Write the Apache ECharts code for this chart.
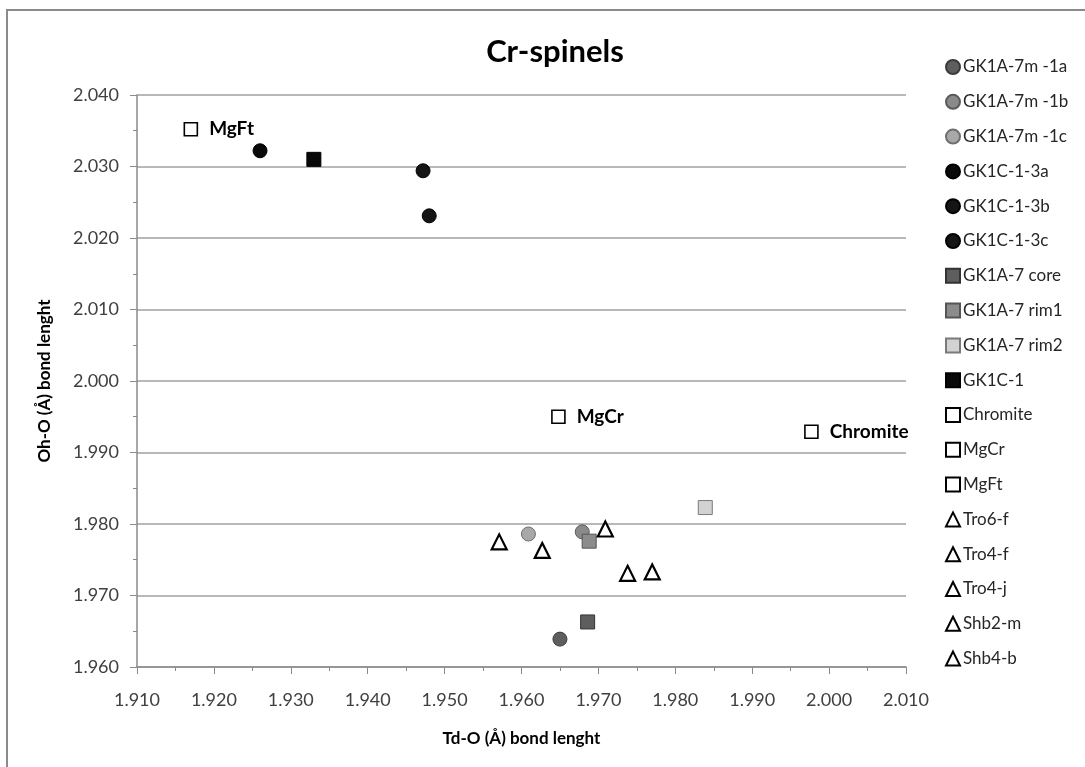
<!DOCTYPE html>
<html>
<head>
<meta charset="utf-8">
<title>Cr-spinels</title>
<script src="https://cdn.jsdelivr.net/npm/echarts@6/dist/echarts.min.js"></script>
<style>
  html, body { margin: 0; padding: 0; background: #fff; }
  #ChartDom { width: 1085px; height: 767px; }
</style>
</head>
<body>
<div id="ChartDom"></div>
<script>
// axis ranges (Td-O on x, Oh-O on y)
const xMin = 1.91
const xMax = 2.01
const xStep = 0.01
const yMin = 1.96
const yMax = 2.04
const yStep = 0.01

const seriesNames = [
  "GK1A-7m -1a", "GK1A-7m -1b", "GK1A-7m -1c",
  "GK1C-1-3a", "GK1C-1-3b", "GK1C-1-3c",
  "GK1A-7 core", "GK1A-7 rim1", "GK1A-7 rim2", "GK1C-1",
  "Chromite", "MgCr", "MgFt",
  "Tro6-f", "Tro4-f", "Tro4-j", "Shb2-m", "Shb4-b",
]

// [Td-O, Oh-O] per sample
const gk1a7m1a = [[1.9650, 1.9639]]
const gk1a7m1b = [[1.9679, 1.9789]]
const gk1a7m1c = [[1.9609, 1.9786]]
const gk1c13a = [[1.9260, 2.0322]]
const gk1c13b = [[1.9472, 2.0294]]
const gk1c13c = [[1.9480, 2.0231]]
const gk1a7core = [[1.9686, 1.9663]]
const gk1a7rim1 = [[1.9688, 1.9776]]
const gk1a7rim2 = [[1.9839, 1.9823]]
const gk1c1 = [[1.9330, 2.0310]]
const chromite = [[1.9977, 1.9929]]
const mgCr = [[1.9648, 1.9950]]
const mgFt = [[1.9170, 2.0352]]
const tro6f = [[1.9571, 1.9775]]
const tro4f = [[1.9627, 1.9763]]
const tro4j = [[1.9709, 1.9793]]
const shb2m = [[1.9738, 1.9731]]
const shb4b = [[1.9770, 1.9733]]

const seriesData = [
  gk1a7m1a, gk1a7m1b, gk1a7m1c,
  gk1c13a, gk1c13b, gk1c13c,
  gk1a7core, gk1a7rim1, gk1a7rim2, gk1c1,
  chromite, mgCr, mgFt,
  tro6f, tro4f, tro4j, shb2m, shb4b,
]

// marker look per series: [symbol, size, fill, border, borderWidth]
const markerStyle = [
  ["circle", 14, "#5e5e5e", "#3a3a3a", 1],
  ["circle", 14, "#8a8a8a", "#5a5a5a", 1],
  ["circle", 14, "#a8a8a8", "#6e6e6e", 1],
  ["circle", 14, "#0a0a0a", "#000", 1],
  ["circle", 14, "#151515", "#000", 1],
  ["circle", 14, "#151515", "#000", 1],
  ["rect", 14, "#5e5e5e", "#333", 1],
  ["rect", 14, "#8c8c8c", "#555", 1],
  ["rect", 14, "#d2d2d2", "#7a7a7a", 1],
  ["rect", 14, "#080808", "#000", 1],
  ["rect", 13, "#fff", "#000", 1.6],
  ["rect", 13, "#fff", "#000", 1.6],
  ["rect", 13, "#fff", "#000", 1.6],
  ["triangle", 15, "#fff", "#000", 2.2],
  ["triangle", 15, "#fff", "#000", 2.2],
  ["triangle", 15, "#fff", "#000", 2.2],
  ["triangle", 15, "#fff", "#000", 2.2],
  ["triangle", 15, "#fff", "#000", 2.2],
]

const labelled = ["Chromite", "MgCr", "MgFt"]
const fontFamily = "Lato, 'Open Sans', sans-serif"

const chartDom = document.getElementById("ChartDom")
const myChart = echarts.init(chartDom, null, { renderer: "canvas" })

const series = seriesNames.map((name, i) => {
  const s = markerStyle[i]
  return {
    name: name,
    type: "scatter",
    symbol: s[0],
    symbolSize: s[1],
    itemStyle: {
      color: s[2],
      borderColor: s[3],
      borderWidth: s[4],
      opacity: 1,
    },
    label: {
      show: labelled.includes(name),
      position: "right",
      distance: 11,
      formatter: name,
      color: "#000",
      fontFamily: fontFamily,
      fontWeight: "bold",
      fontSize: 19,
    },
    emphasis: { disabled: true },
    data: seriesData[i],
  }
})

const option = {
  animation: false,
  backgroundColor: "#fff",
  textStyle: { fontFamily: fontFamily },
  title: {
    text: "Cr-spinels",
    left: 550,
    top: 31,
    textAlign: "center",
    textStyle: {
      color: "#000",
      fontFamily: fontFamily,
      fontWeight: "bold",
      fontSize: 31,
    },
  },
  legend: {
    orient: "vertical",
    left: 940,
    top: 53,
    itemWidth: 14,
    itemHeight: 14,
    itemGap: 16.8,
    textStyle: {
      color: "#262626",
      fontFamily: fontFamily,
      fontSize: 17,
      lineHeight: 18,
      padding: [0, 0, 0, -2],
    },
    data: seriesNames,
  },
  grid: {
    left: 137,
    right: 179,
    top: 95,
    bottom: 100,
    containLabel: false,
  },
  xAxis: {
    type: "value",
    min: xMin,
    max: xMax,
    interval: xStep,
    name: "Td-O (Å) bond lenght",
    nameLocation: "middle",
    nameGap: 63,
    nameTextStyle: {
      color: "#000",
      fontFamily: fontFamily,
      fontWeight: "bold",
      fontSize: 17,
    },
    axisLine: { show: true, lineStyle: { color: "#8a8a8a", width: 1.5 } },
    axisTick: { show: true, length: 7, lineStyle: { color: "#8a8a8a" } },
    minorTick: { show: true, splitNumber: 2, length: 4, lineStyle: { color: "#8a8a8a" } },
    splitLine: { show: false },
    axisLabel: {
      color: "#404040",
      fontFamily: fontFamily,
      fontSize: 18,
      margin: 24,
      formatter: (v) => v.toFixed(3),
    },
  },
  yAxis: {
    type: "value",
    min: yMin,
    max: yMax,
    interval: yStep,
    name: "Oh-O (Å) bond lenght",
    nameLocation: "middle",
    nameGap: 84,
    nameTextStyle: {
      color: "#000",
      fontFamily: fontFamily,
      fontWeight: "bold",
      fontSize: 17,
    },
    axisLine: { show: true, lineStyle: { color: "#8a8a8a", width: 1.5 } },
    axisTick: { show: true, length: 7, lineStyle: { color: "#8a8a8a" } },
    minorTick: { show: true, splitNumber: 2, length: 4, lineStyle: { color: "#8a8a8a" } },
    splitLine: { show: true, lineStyle: { color: "#a0a0a0", width: 1.5 } },
    axisLabel: {
      color: "#404040",
      fontFamily: fontFamily,
      fontSize: 18,
      margin: 18,
      formatter: (v) => v.toFixed(3),
    },
  },
  graphic: [
    {
      type: "rect",
      shape: { x: 7, y: 10, width: 1200, height: 900 },
      style: { fill: null, stroke: "#8a8a8a", lineWidth: 2 },
      silent: true,
      z: -1,
    },
  ],
  series: series,
}

myChart.setOption(option)
</script>
</body>
</html>
